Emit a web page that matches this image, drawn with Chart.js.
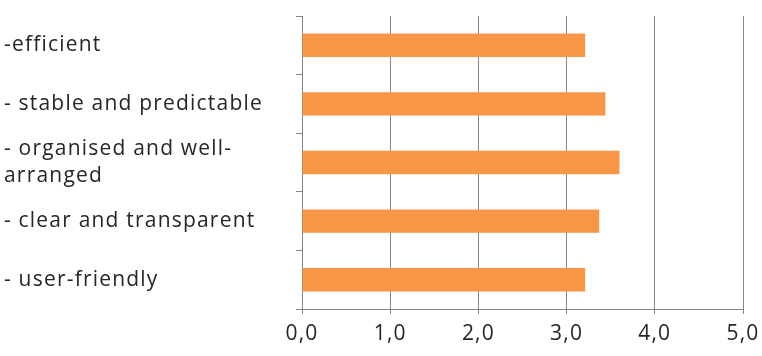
<!DOCTYPE html>
<html>
<head>
<meta charset="utf-8">
<script src="https://cdn.jsdelivr.net/npm/chart.js@4/dist/chart.umd.min.js"></script>
<style>
  html, body { margin: 0; padding: 0; background: #fff; }
  #wrap { width: 762px; height: 356px; position: relative; }
</style>
</head>
<body>
<div id="wrap"><canvas id="ratingChart"></canvas></div>
<script>
/* category labels, top to bottom */
const attributes = [
  '-efficient',
  '- stable and predictable',
  ['- organised and well-', 'arranged'],
  '- clear and transparent',
  '- user-friendly',
];
// mean score per attribute
const scores = [3.21, 3.44, 3.60, 3.37, 3.21];
const scaleMin = 0;
const scaleMax = 5;
const scaleStep = 1;

const GRID = '#858585';
const TEXT = '#262626';
const FONT = { family: '"Open Sans", "Noto Sans", sans-serif', size: 21, lineHeight: 1.3 };

// slightly looser letter spacing for all axis text
const spacing = {
  id: 'spacing',
  beforeDraw(chart) { chart.ctx.letterSpacing = '1.2px'; },
};

new Chart(document.getElementById('ratingChart'), {
  type: 'bar',
  data: {
    labels: attributes,
    datasets: [{
      data: scores,
      backgroundColor: '#f79646',
      borderWidth: 0,
      categoryPercentage: 1,
      barPercentage: 0.4,
    }],
  },
  options: {
    indexAxis: 'y',
    responsive: true,
    maintainAspectRatio: false,
    animation: false,
    layout: { padding: { left: 4, top: 16, right: 19, bottom: 0 } },
    plugins: { legend: { display: false }, tooltip: { enabled: false } },
    scales: {
      x: {
        min: scaleMin,
        max: scaleMax,
        ticks: {
          stepSize: scaleStep,
          color: TEXT,
          font: FONT,
          padding: 6,
          maxRotation: 0,
          callback: (v) => Number(v).toFixed(1).replace('.', ','),
        },
        grid: { color: GRID, lineWidth: 1, tickLength: 5 },
        border: { color: GRID, width: 1 },
        afterFit: (s) => { s.height = 47; s.paddingLeft = 0; s.paddingRight = 0; },
      },
      y: {
        offset: true,
        ticks: { color: TEXT, font: FONT, crossAlign: 'far', padding: 10, autoSkip: false },
        grid: { offset: true, drawOnChartArea: false, color: GRID, tickLength: 6 },
        border: { color: GRID, width: 1 },
        afterFit: (s) => { s.width = 298; s.paddingTop = 0; s.paddingBottom = 0; },
      },
    },
  },
  plugins: [spacing],
});
</script>
</body>
</html>
